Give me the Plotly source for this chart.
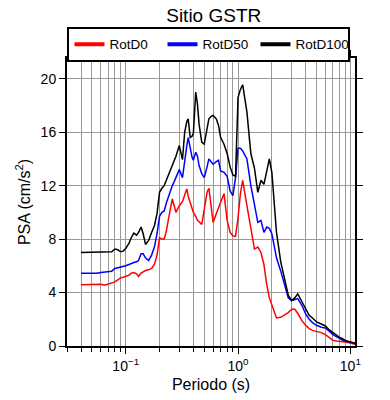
import plotly.graph_objects as go

periods = [0.04, 0.045, 0.05, 0.055, 0.06, 0.065, 0.07, 0.075, 0.08, 0.085, 0.09, 0.095,
           0.1, 0.107, 0.112, 0.118, 0.125, 0.13, 0.137, 0.143, 0.15, 0.16, 0.17, 0.18, 0.19,
           0.2, 0.21, 0.22, 0.23, 0.24, 0.25, 0.26, 0.27, 0.28, 0.3, 0.32, 0.335, 0.35, 0.36,
           0.375, 0.39, 0.4, 0.42, 0.435, 0.45, 0.475, 0.5, 0.53, 0.55, 0.58, 0.6, 0.64, 0.67,
           0.7, 0.75, 0.8, 0.85, 0.9, 0.95, 1.0, 1.05, 1.1, 1.2, 1.3, 1.4, 1.5, 1.6, 1.7, 1.8,
           1.9, 2.0, 2.1, 2.2, 2.4, 2.6, 2.8, 3.0, 3.2, 3.4, 3.7, 4.0, 4.3, 4.6, 5.0, 5.5, 6.0,
           6.5, 7.0, 7.5, 8.0, 8.5, 9.0, 10.0, 11.0]

rotd100 = [7.0, 7.0, 7.0, 7.0, 7.02, 7.05, 7.05, 7.05, 7.25, 7.2, 7.05, 7.1,
           7.3, 7.7, 8.1, 8.45, 8.3, 8.5, 8.9, 8.4, 7.6, 7.9, 8.5, 9.0, 9.9,
           11.5, 11.8, 12.0, 12.4, 12.8, 13.1, 13.4, 13.8, 14.2, 15.0, 13.95, 16.0, 16.8, 17.0,
           15.6, 15.7, 15.9, 19.0, 18.1, 16.6, 15.25, 15.1, 16.4, 17.0, 17.2, 17.25, 17.0, 16.5,
           15.6, 15.1, 14.4, 13.4, 12.8, 12.7, 18.6, 19.2, 19.55, 17.5, 14.4, 13.3, 11.5, 12.4, 12.1, 13.0,
           14.0, 13.0, 10.5, 8.5, 6.3, 4.9, 3.8, 3.4, 3.6, 3.9, 3.3, 2.8, 2.3, 2.1, 1.8, 1.65, 1.5,
           1.2, 1.0, 0.85, 0.65, 0.55, 0.42, 0.3, 0.2]

rotd50 = [5.45, 5.45, 5.4, 5.45, 5.5, 5.55, 5.55, 5.6, 5.8, 5.85, 5.95, 5.95,
          6.0, 6.1, 6.2, 6.25, 6.3, 6.4, 6.9, 6.9, 6.6, 6.4, 6.8, 7.4, 8.4,
          9.7, 10.0, 10.1, 10.7, 11.2, 11.6, 12.0, 12.3, 12.6, 13.2, 12.6, 14.0, 15.0, 15.6,
          14.8, 14.1, 13.9, 14.5, 14.2, 13.5, 12.9, 12.6, 13.4, 14.0, 13.75, 13.6, 13.8, 13.9,
          13.1, 13.0, 12.7, 11.6, 11.25, 12.6, 14.8, 14.8, 14.6, 14.0, 12.0, 10.6, 9.25, 9.4, 8.5, 8.9,
          8.8, 8.4, 7.3, 6.6, 5.6, 4.5, 3.6, 3.4, 3.45, 3.55, 3.05, 2.4, 2.0, 1.75, 1.55, 1.4, 1.35,
          1.05, 0.85, 0.7, 0.55, 0.45, 0.38, 0.28, 0.2]

rotd0 = [4.58, 4.6, 4.6, 4.6, 4.62, 4.55, 4.65, 4.75, 4.8, 4.95, 5.1, 5.15,
         5.2, 5.3, 5.45, 5.5, 5.4, 5.2, 5.45, 5.57, 5.65, 5.7, 5.8, 6.1, 6.8,
         8.1, 8.0, 8.0, 8.6, 9.5, 10.2, 11.0, 10.5, 10.0, 10.5, 10.8, 11.3, 11.75, 11.2,
         10.7, 10.2, 10.0, 9.7, 9.4, 9.3, 9.1, 10.2, 11.5, 11.8, 10.0, 9.25, 9.9, 10.4,
         10.75, 11.4, 9.4, 8.5, 8.25, 8.2, 9.6, 11.4, 12.4, 10.5, 8.75, 7.25, 7.4, 7.0, 6.1, 4.6,
         3.6, 3.1, 2.6, 2.1, 2.15, 2.3, 2.5, 2.75, 2.75, 2.45, 1.9, 1.55, 1.3, 1.17, 1.1, 1.0, 0.85,
         0.6, 0.42, 0.38, 0.36, 0.33, 0.3, 0.22, 0.13]

series_names = ["RotD0", "RotD50", "RotD100"]
series_colors = ["#ff0000", "#0000ff", "#000000"]

x_tick_vals = [0.1, 1, 10]
x_tick_text = ["10<sup>\u22121</sup>", "10<sup>0</sup>", "10<sup>1</sup>"]
y_tick_vals = [0, 4, 8, 12, 16, 20]

minor_vals = [m * 10 ** e for e in (-2, -1, 0, 1) for m in range(2, 10)]

fig = go.Figure()
for name, color, vals in zip(series_names, series_colors, [rotd0, rotd50, rotd100]):
    fig.add_trace(go.Scatter(x=periods, y=vals, mode="lines", name=name,
                             line=dict(color=color, width=1.5), showlegend=False))
# legend samples (thicker lines, like the reference key)
for name, color in zip(series_names, series_colors):
    fig.add_trace(go.Scatter(x=[None], y=[None], mode="lines", name=name,
                             line=dict(color=color, width=4), showlegend=True))

font_family = "Liberation Sans, Arial, sans-serif"
fig.update_layout(
    width=390, height=400,
    margin=dict(l=67, r=35, t=58, b=54, autoexpand=False),
    paper_bgcolor="white", plot_bgcolor="white",
    font=dict(family=font_family, color="black", size=14),
    title=dict(text="Sitio GSTR", x=0.548, xanchor="center", y=0.962, yanchor="middle",
               font=dict(size=19, family=font_family, color="black")),
    legend=dict(orientation="h", x=0.493, xanchor="center", y=1.108, yanchor="top",
                bordercolor="black", borderwidth=2, bgcolor="white",
                font=dict(size=13.5), entrywidth=48, itemwidth=30, tracegroupgap=0),
    showlegend=True,
)
fig.update_xaxes(
    type="log", range=[-1.5229, 1.0414],
    tickvals=x_tick_vals, ticktext=x_tick_text,
    ticks="outside", ticklen=6, tickwidth=1, tickcolor="black",
    showline=True, linecolor="black", linewidth=2, mirror="allticks",
    showgrid=True, gridcolor="#999999", gridwidth=1,
    minor=dict(tickvals=minor_vals, ticks="outside", ticklen=4, tickcolor="black",
               showgrid=True, gridcolor="#999999", gridwidth=1),
    title=dict(text="Periodo (s)", font=dict(size=16), standoff=6),
    zeroline=False,
)
fig.update_yaxes(
    range=[0, 21.55], tickvals=y_tick_vals,
    ticks="outside", ticklen=6, tickwidth=1, tickcolor="black",
    showline=True, linecolor="black", linewidth=2, mirror="allticks",
    showgrid=True, gridcolor="#999999", gridwidth=1,
    title=dict(text="PSA (cm/s<sup>2</sup>)", font=dict(size=16), standoff=6),
    zeroline=False,
)
fig.write_html("out.html", config={"displayModeBar": False})

with open("out.html", "r", encoding="utf-8") as f:
    html = f.read()
html = html.replace("<head>", "<head><style>html,body{margin:0;padding:0;}</style>", 1)
with open("out.html", "w", encoding="utf-8") as f:
    f.write(html)
